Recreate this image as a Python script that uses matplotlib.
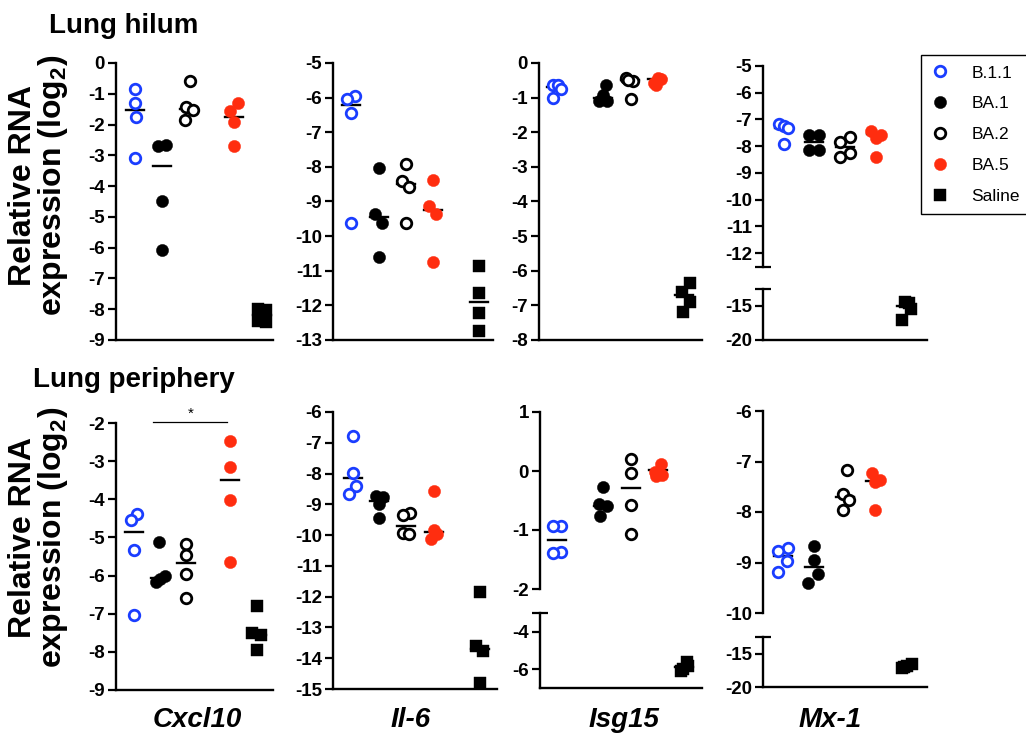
import matplotlib
matplotlib.use('Agg')
import matplotlib.pyplot as plt
from matplotlib.lines import Line2D
from matplotlib.ticker import FixedLocator, NullFormatter

plt.rcParams['font.family'] = ['Liberation Sans', 'DejaVu Sans']
plt.rcParams['axes.unicode_minus'] = False
plt.rcParams['mathtext.fontset'] = 'custom'
plt.rcParams['mathtext.bf'] = 'Liberation Sans:bold'
plt.rcParams['mathtext.rm'] = 'Liberation Sans:bold'

groups = ['B.1.1', 'BA.1', 'BA.2', 'BA.5', 'Saline']
genes = ['Cxcl10', 'Il-6', 'Isg15', 'Mx-1']

# ---- Lung hilum: values per group (log2) and centre line ----
hil_cxcl10 = [[-0.85, -1.30, -1.74, -3.09], [-2.71, -2.68, -4.48, -6.07],
              [-0.57, -1.43, -1.54, -1.84], [-1.30, -1.55, -1.92, -2.69],
              [-7.98, -8.02, -8.38, -8.42]]
hil_cxcl10_line = [-1.52, -3.34, -1.50, -1.74, -8.20]

hil_il6 = [[-5.96, -6.04, -6.43, -9.61], [-8.04, -9.36, -9.63, -10.61],
           [-7.92, -8.40, -8.57, -9.63], [-8.39, -9.14, -9.36, -10.75],
           [-10.86, -11.63, -12.23, -12.74]]
hil_il6_line = [-6.20, -9.45, -8.50, -9.25, -11.90]

hil_isg15 = [[-0.63, -0.63, -0.75, -1.01], [-0.63, -0.92, -1.11, -1.11],
             [-0.43, -0.53, -1.03, -0.48], [-0.43, -0.46, -0.58, -0.63],
             [-6.36, -6.60, -6.89, -7.18]]
hil_isg15_line = [-0.70, -1.00, -0.50, -0.47, -6.70]

hil_mx1 = [[-7.18, -7.25, -7.30, -7.93], [-7.59, -7.59, -8.13, -8.13],
           [-7.65, -7.84, -8.25, -8.40], [-7.43, -7.59, -7.68, -8.40],
           [-14.4, -14.6, -15.4, -17.1]]
hil_mx1_line = [-7.30, -7.84, -8.03, -7.53, -15.0]

# ---- Lung periphery ----
per_cxcl10 = [[-4.39, -4.54, -5.32, -7.03], [-5.11, -6.02, -6.09, -6.18],
              [-5.17, -5.46, -5.96, -6.59], [-2.48, -3.15, -4.01, -5.65],
              [-6.79, -7.51, -7.56, -7.95]]
per_cxcl10_line = [-4.87, -6.07, -5.67, -3.50, -7.55]

per_il6 = [[-6.79, -7.98, -8.40, -8.68], [-8.74, -8.76, -9.00, -9.43],
           [-9.28, -9.35, -9.93, -9.97], [-8.56, -9.82, -9.97, -10.13],
           [-11.84, -13.61, -13.77, -14.80]]
per_il6_line = [-8.16, -8.90, -9.70, -9.90, -13.70]

per_isg15 = [[-0.93, -0.94, -1.38, -1.39], [-0.27, -0.56, -0.60, -0.76],
             [0.21, -0.03, -0.58, -1.07], [0.12, -0.01, -0.07, -0.09],
             [-5.6, -5.8, -6.0, -6.1]]
per_isg15_line = [-1.17, -0.59, -0.28, 0.02, -5.90]

per_mx1 = [[-8.71, -8.78, -8.97, -9.19], [-8.68, -8.96, -9.22, -9.41],
           [-7.16, -7.65, -7.77, -7.97], [-7.23, -7.37, -7.41, -7.97],
           [-16.6, -16.8, -17.0, -17.2]]
per_mx1_line = [-8.87, -9.09, -7.71, -7.39, -16.9]

# ---- layout (pixels) ----
W, H = 1026, 740
blue = '#1a3dff'
red = '#ff2d0f'
styles = [dict(marker='o', mfc='white', mec=blue, ms=7.6, mew=2.0),
          dict(marker='o', mfc='black', mec='black', ms=8.8, mew=0.3),
          dict(marker='o', mfc='white', mec='black', ms=7.6, mew=2.0),
          dict(marker='o', mfc=red, mec=red, ms=8.8, mew=0.3),
          dict(marker='s', mfc='black', mec='black', ms=9.2, mew=0.3)]

# jitter of the 4 points in each group (px)
hil_dx = [
    [[0, 0, 1, 0], [-4, 4, 0, 0], [1, -3, 4, -4], [4, -4, 0, 0], [-4, 4, -4, 4]],
    [[4, -4, 0, 0], [0, -4, 3, 0], [0, -4, 3, 0], [0, -4, 3, 0], [0, 0, 0, 0]],
    [[-3, 2, 5, -3], [3, 0, -4, 4], [-4, 3, 1, -2], [1, 4, -3, -1], [6, -2, 6, -1]],
    [[-5, 0, 4, 0], [-5, 5, -5, 5], [5, -5, 5, -5], [-5, 5, 0, 0], [-1, 3, 5, -4]],
]
per_dx = [
    [[3, -3, 0, 0], [-1, 5, 0, -4], [0, 0, 0, 0], [0, 0, 0, 0], [0, -5, 4, 0]],
    [[0, 0, 3, -4], [-3, 4, 0, 0], [4, -3, -3, 3], [0, 0, 3, -3], [0, -4, 3, 0]],
    [[4, -4, 4, -4], [0, -4, 4, -3], [0, 0, 0, 0], [3, -3, 4, -2], [3, 4, -1, -3]],
    [[5, -5, 4, -5], [0, 0, 4, -6], [2, -2, 4, -2], [-3, 5, 0, 0], [5, 0, -3, -5]],
]
hil_centers = [[19, 46, 73, 118, 146], [18, 46, 73, 100, 146],
               [17, 64, 91, 118, 145], [21, 51, 82, 113, 143]]
per_centers = [[18, 44, 70, 114, 141], [20, 46, 73, 101, 147],
               [17, 63, 91, 118, 144], [20, 51, 82, 112, 144]]
hil_x = [(116, 273), (333, 493), (539, 702), (763, 927)]
per_x = [(116, 273), (333, 497), (540, 702), (763, 927)]

fig = plt.figure(figsize=(W / 100, H / 100), dpi=100)


def add_ax(x0, x1, y0, y1):
    ax = fig.add_axes([x0 / W, 1 - y1 / H, (x1 - x0) / W, (y1 - y0) / H])
    ax.set_xlim(0, x1 - x0)
    for s in ['top', 'right']:
        ax.spines[s].set_visible(False)
    for s in ['left', 'bottom']:
        ax.spines[s].set_linewidth(1.7)
    ax.set_xticks([])
    ax.tick_params(axis='y', which='major', length=5.5, width=1.6, pad=2.5,
                   labelsize=13.5)
    ax.tick_params(axis='y', which='minor', length=11, width=1.6, direction='inout')
    ax.set_facecolor('none')
    return ax


def set_ticks(ax, lo, hi, ticks, cap=None):
    ax.set_ylim(lo, hi)
    ax.set_yticks(ticks)
    ax.set_yticklabels([str(t) for t in ticks], fontweight='bold', fontsize=13.5)
    if cap is not None:
        ax.yaxis.set_minor_locator(FixedLocator([cap]))
        ax.yaxis.set_minor_formatter(NullFormatter())


def draw(axes_list, data, line, centers, dx):
    for g in range(5):
        for ax, lo, hi in axes_list:
            xs = [centers[g] + d for d, v in zip(dx[g], data[g]) if lo <= v <= hi]
            ys = [v for v in data[g] if lo <= v <= hi]
            ax.plot(xs, ys, ls='none', clip_on=False, zorder=3, **styles[g])
            if lo <= line[g] <= hi:
                ax.plot([centers[g] - 9, centers[g] + 9], [line[g], line[g]],
                        color='black', lw=1.7, zorder=2, clip_on=False)


# ---- top row ----
ax = add_ax(*hil_x[0], 63, 340)
set_ticks(ax, -9, 0, list(range(0, -10, -1)))
draw([(ax, -9, 0)], hil_cxcl10, hil_cxcl10_line, hil_centers[0], hil_dx[0])

ax = add_ax(*hil_x[1], 63, 340)
set_ticks(ax, -13, -5, list(range(-5, -14, -1)))
draw([(ax, -13, -5)], hil_il6, hil_il6_line, hil_centers[1], hil_dx[1])

ax = add_ax(*hil_x[2], 63, 340)
set_ticks(ax, -8, 0, list(range(0, -9, -1)))
draw([(ax, -8, 0)], hil_isg15, hil_isg15_line, hil_centers[2], hil_dx[2])

ax_u = add_ax(*hil_x[3], 66, 266.6)
ax_u.spines['bottom'].set_visible(False)
set_ticks(ax_u, -12.5, -5, list(range(-5, -13, -1)), cap=-12.5)
ax_l = add_ax(*hil_x[3], 289, 340)
set_ticks(ax_l, -20, -12.5, [-15, -20], cap=-12.5)
draw([(ax_u, -12.5, -5), (ax_l, -20, -12.5)], hil_mx1, hil_mx1_line,
     hil_centers[3], hil_dx[3])

# ---- bottom row ----
ax = add_ax(*per_x[0], 423, 690)
set_ticks(ax, -9, -2, list(range(-2, -10, -1)))
draw([(ax, -9, -2)], per_cxcl10, per_cxcl10_line, per_centers[0], per_dx[0])
ax.plot([37, 111], [-1.97, -1.97], color='black', lw=0.9, clip_on=False)
ax.text(75, -1.93, '*', ha='center', va='bottom', fontsize=11)

ax = add_ax(*per_x[1], 412, 689)
set_ticks(ax, -15, -6, list(range(-6, -16, -1)))
draw([(ax, -15, -6)], per_il6, per_il6_line, per_centers[1], per_dx[1])

ax_u = add_ax(*per_x[2], 412, 589)
ax_u.spines['bottom'].set_visible(False)
set_ticks(ax_u, -2, 1, [1, 0, -1, -2], cap=-2)
ax_l = add_ax(*per_x[2], 613, 688)
set_ticks(ax_l, -7, -3, [-4, -6], cap=-3)
draw([(ax_u, -2, 1), (ax_l, -7, -3)], per_isg15, per_isg15_line,
     per_centers[2], per_dx[2])

ax_u = add_ax(*per_x[3], 411, 613)
ax_u.spines['bottom'].set_visible(False)
set_ticks(ax_u, -10, -6, [-6, -7, -8, -9, -10], cap=-10)
ax_l = add_ax(*per_x[3], 637, 687)
set_ticks(ax_l, -20, -12.5, [-15, -20], cap=-12.5)
draw([(ax_u, -10, -6), (ax_l, -20, -12.5)], per_mx1, per_mx1_line,
     per_centers[3], per_dx[3])

# ---- texts ----
fig.text(49 / W, 1 - 33 / H, 'Lung hilum', fontsize=20, fontweight='bold',
         ha='left', va='baseline')
fig.text(33 / W, 1 - 387 / H, 'Lung periphery', fontsize=20, fontweight='bold',
         ha='left', va='baseline')
ylab = 'Relative RNA\nexpression (log$_\\mathbf{2}$)'
for yc in [185, 537]:
    fig.text(39 / W, 1 - yc / H, ylab, rotation=90, fontsize=23, fontweight='bold',
             ha='center', va='center', multialignment='center', linespacing=0.9)
for name, xc in zip(genes, [197, 411, 624, 830]):
    fig.text(xc / W, 1 - 720 / H, name, fontsize=20, fontweight='bold',
             fontstyle='italic', ha='center', va='center')

# ---- legend ----
handles = [Line2D([], [], ls='none', **st) for st in styles]
leg = fig.legend(handles, groups, loc='upper left',
                 bbox_to_anchor=(921 / W, 1 - 55 / H), frameon=True,
                 fancybox=False, edgecolor='black', framealpha=1,
                 fontsize=12.5, handlelength=1.0, handletextpad=1.3,
                 labelspacing=0.9, borderpad=0.6, borderaxespad=0)
leg.get_frame().set_linewidth(1.0)

fig.savefig('out.png', dpi=100)
